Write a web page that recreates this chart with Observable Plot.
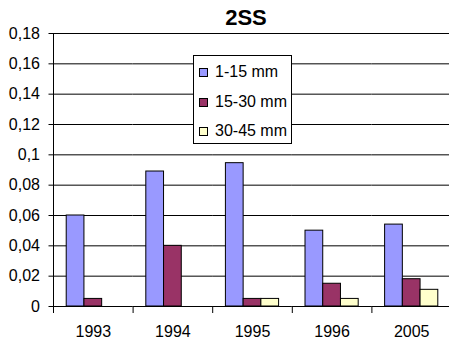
<!DOCTYPE html>
<html>
<head>
<meta charset="utf-8">
<script src="https://cdn.jsdelivr.net/npm/d3@7"></script>
<script src="https://cdn.jsdelivr.net/npm/@observablehq/plot@0.6"></script>
<style>
  html, body { margin: 0; padding: 0; background: #fff; }
  #chart { position: relative; width: 449px; height: 344px; overflow: hidden;
           font-family: "Liberation Sans", Arial, sans-serif; color: #000; }
  .title { position: absolute; left: 196px; width: 100px; top: 7px; text-align: center;
           font-size: 22px; font-weight: bold; line-height: 22px; }
  .legend { position: absolute; left: 193px; top: 55px; width: 97px; height: 87px;
            background: #fff; border: 1px solid #000; }
  .legend .item { position: absolute; left: 5px; height: 16px; font-size: 16px; line-height: 16px;
                  white-space: nowrap; }
  .legend .sw { position: absolute; left: 0; top: 4px; width: 7px; height: 7px; border: 1px solid #000; }
  .legend .lab { position: absolute; left: 16px; top: 0; }
</style>
</head>
<body>
<div id="chart"></div>
<script>
// Sampling years and sediment size classes
const years = ["1993", "1994", "1995", "1996", "2005"];
const sizeClasses = ["1-15 mm", "15-30 mm", "30-45 mm"];

// Values per size class, one per year
const fine = [0.06, 0.089, 0.0945, 0.05, 0.054];
const medium = [0.005, 0.04, 0.005, 0.015, 0.018];
const coarse = [0, 0, 0.005, 0.005, 0.011];

const classColors = ["#9999FF", "#993366", "#FFFFCC"];
const yTicks = [0, 0.02, 0.04, 0.06, 0.08, 0.1, 0.12, 0.14, 0.16, 0.18];

const series = [fine, medium, coarse];
const rows = years.flatMap((year, i) =>
  series.map((vals, j) => ({year, size: sizeClasses[j], value: vals[i]}))
);

const W = 451, H = 344, mTop = 33, mBottom = 38, mLeft = 53;

const chart = Plot.plot({
  width: W,
  height: H,
  marginTop: mTop,
  marginBottom: mBottom,
  marginLeft: mLeft,
  marginRight: 0,
  style: {fontFamily: "'Liberation Sans', Arial, sans-serif", fontSize: "16px", color: "#000",
          background: "transparent", maxWidth: "none", overflow: "visible"},
  fx: {domain: years, padding: 0, label: null, axis: null, round: false},
  x: {domain: sizeClasses, paddingInner: 0, paddingOuter: 0.745, axis: null, round: false},
  y: {domain: [0, 0.18], axis: null},
  color: {domain: sizeClasses, range: classColors},
  marks: [
    // horizontal gridlines, including the top one at 0.18
    Plot.ruleY(yTicks, {stroke: "#000"}),
    Plot.frame({anchor: "top", stroke: "#000"}),
    Plot.barY(rows.filter(d => d.value > 0), {
      fx: "year", x: "size", y: "value", fill: "size",
      stroke: "#000", strokeWidth: 1, inset: 0
    }),
    Plot.axisY({
      ticks: yTicks,
      tickFormat: d => String(d).replace(".", ","),
      tickSize: 4.5, tickPadding: 9, label: null
    }),
    // vertical value axis line
    Plot.frame({anchor: "left", facetAnchor: "left", stroke: "#000"}),
    Plot.axisFx({anchor: "bottom", tickSize: 0, tickPadding: 19, label: null}),
    // short divider ticks between year categories
    Plot.frame({anchor: "left", insetTop: H - mTop - mBottom, insetBottom: -6, stroke: "#000"})
  ]
});

const root = document.getElementById("chart");
root.appendChild(chart);

const title = document.createElement("div");
title.className = "title";
title.textContent = "2SS";
root.appendChild(title);

const legend = document.createElement("div");
legend.className = "legend";
const rowTops = [8, 38, 67];
sizeClasses.forEach((name, i) => {
  const item = document.createElement("div");
  item.className = "item";
  item.style.top = rowTops[i] + "px";
  const sw = document.createElement("div");
  sw.className = "sw";
  sw.style.background = classColors[i];
  const lab = document.createElement("div");
  lab.className = "lab";
  lab.textContent = name;
  item.appendChild(sw);
  item.appendChild(lab);
  legend.appendChild(item);
});
root.appendChild(legend);
</script>
</body>
</html>
